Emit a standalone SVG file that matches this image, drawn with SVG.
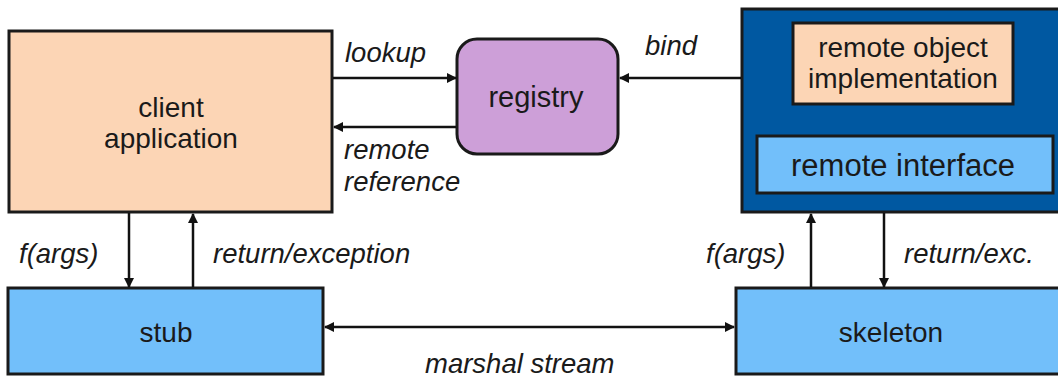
<svg xmlns="http://www.w3.org/2000/svg" width="1058" height="379" viewBox="0 0 1058 379">
<defs>
<marker id="ah" markerWidth="10" markerHeight="10" refX="9" refY="5" orient="auto" markerUnits="userSpaceOnUse" viewBox="0 0 10 10"><path d="M0,0 L10,5 L0,10 z" fill="#111"/></marker>
<marker id="ahs" markerWidth="10" markerHeight="10" refX="1" refY="5" orient="auto" markerUnits="userSpaceOnUse" viewBox="0 0 10 10"><path d="M10,0 L0,5 L10,10 z" fill="#111"/></marker>
</defs>
<style>
.box{stroke:#1a1a1a;stroke-width:3}
.peach{fill:#fcd5b5}
.blue{fill:#72bffa}
.t{font-family:"Liberation Sans",Arial,sans-serif;font-size:28px;fill:#1a1a1a;text-anchor:middle}
.l{font-family:"Liberation Sans",Arial,sans-serif;font-size:27.5px;font-style:italic;fill:#1a1a1a}
.c{stroke:#111;stroke-width:2.5;fill:none}
</style>
<rect width="1058" height="379" fill="#fff"/>
<g id="client">
<rect class="box peach" x="9" y="31" width="323" height="181"/>
<text class="t" x="171" y="117">client</text>
<text class="t" x="171" y="148">application</text>
</g>
<g id="registry">
<rect class="box" x="457" y="39" width="161" height="115" rx="20" fill="#cd9fd8"/>
<text class="t" x="536" y="107" style="font-size:29px">registry</text>
</g>
<g id="server">
<rect class="box" x="742" y="9" width="330" height="203" fill="#0058a1"/>
</g>
<g id="impl">
<rect class="box peach" x="793" y="23" width="220" height="81"/>
<text class="t" x="903" y="57">remote object</text>
<text class="t" x="903" y="88">implementation</text>
</g>
<g id="interface">
<rect class="box blue" x="757" y="136" width="296" height="57"/>
<text class="t" x="903" y="176" style="font-size:31px">remote interface</text>
</g>
<g id="stub">
<rect class="box blue" x="8" y="288" width="315" height="86"/>
<text class="t" x="166" y="342">stub</text>
</g>
<g id="skeleton">
<rect class="box blue" x="736" y="288" width="340" height="86"/>
<text class="t" x="891" y="342">skeleton</text>
</g>
<g id="connectors">
<line class="c" x1="333" y1="78" x2="456" y2="78" marker-end="url(#ah)"/>
<line class="c" x1="456" y1="127" x2="334" y2="127" marker-end="url(#ah)"/>
<line class="c" x1="741" y1="78" x2="620" y2="78" marker-end="url(#ah)"/>
<line class="c" x1="129" y1="213" x2="129" y2="287" marker-end="url(#ah)"/>
<line class="c" x1="193" y1="287" x2="193" y2="214" marker-end="url(#ah)"/>
<line class="c" x1="811" y1="287" x2="811" y2="214" marker-end="url(#ah)"/>
<line class="c" x1="884" y1="213" x2="884" y2="287" marker-end="url(#ah)"/>
<line class="c" x1="325" y1="327" x2="734" y2="327" marker-start="url(#ahs)" marker-end="url(#ah)"/>
</g>
<g id="labels">
<text class="l" x="345" y="62">lookup</text>
<text class="l" x="645" y="55">bind</text>
<text class="l" x="344" y="159">remote</text>
<text class="l" x="344" y="191">reference</text>
<text class="l" x="19" y="263">f(args)</text>
<text class="l" x="213" y="263">return/exception</text>
<text class="l" x="706" y="263">f(args)</text>
<text class="l" x="904" y="263">return/exc.</text>
<text class="l" x="425" y="373">marshal stream</text>
</g>
</svg>
